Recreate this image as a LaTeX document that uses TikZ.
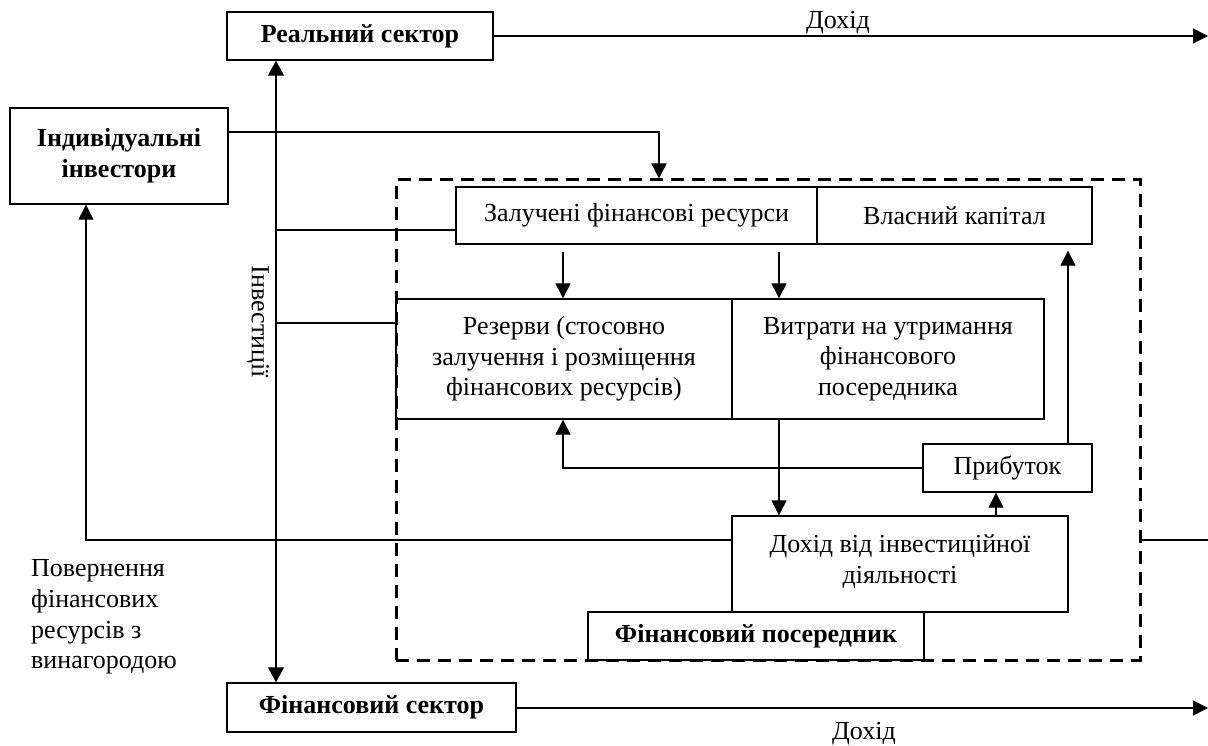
\documentclass[tikz,border=0pt]{standalone}
\usepackage{fontspec}
\setmainfont{Liberation Serif}
\usetikzlibrary{arrows.meta,calc}
\newcommand\mainfs{\fontsize{26}{30.7}\selectfont}
\begin{document}
\begin{tikzpicture}[x=1pt,y=-1pt,
  box/.style={draw, line width=1.4pt, inner sep=0pt, align=center, font=\mainfs},
  conn/.style={line width=1.3pt},
  arr/.style={line width=1.3pt, -{Triangle[length=15pt,width=15pt]}},
  darr/.style={line width=1.1pt, {Triangle[length=15pt,width=16pt]}-{Triangle[length=15pt,width=16pt]}},
  lbl/.style={font=\mainfs, inner sep=0pt},
  dashbox/.style={draw, line width=3pt, dash pattern=on 13pt off 8pt, inner sep=0pt}]
\useasboundingbox (0,0) rectangle (1208,746);

% dashed financial intermediary frame
\node[dashbox, minimum width=744pt, minimum height=480pt] (fp) at (768,420) {};

% boxes
\node[box, minimum width=266pt, minimum height=48pt] (real) at (360,36) {\textbf{Реальний сектор}};
\node[box, minimum width=218pt, minimum height=96pt] (inv) at (119,156) {\textbf{Індивідуальні}\\\textbf{інвестори}};
\node[box, minimum width=289pt, minimum height=49pt] (fin) at (371.5,707.5) {\textbf{Фінансовий сектор}};
\node[box, minimum width=361pt, minimum height=57pt] (zal) at (636.5,215.5) {Залучені фінансові ресурси};
\node[box, minimum width=275pt, minimum height=57pt] (vlas) at (954.5,215.5) {Власний капітал};
\node[box, minimum width=336pt, minimum height=120pt] (res) at (564,359) {Резерви (стосовно\\залучення і розміщення\\фінансових ресурсів)};
\node[box, minimum width=312pt, minimum height=120pt] (vyt) at (888,359) {Витрати на утримання\\фінансового\\посередника};
\node[box, minimum width=169pt, minimum height=48pt] (prib) at (1007.5,468) {Прибуток};
\node[box, minimum width=336pt, minimum height=96pt] (doh) at (900,564) {Дохід від інвестиційної\\діяльності\strut};
\node[box, minimum width=336pt, minimum height=48pt] (fpos) at (756,636) {\textbf{Фінансовий посередник}};

% labels
\node[lbl] (dtop) at (838,23) {Дохід};
\node[lbl] (dbot) at (864,734) {Дохід};
\node[lbl, rotate=-90] (invest) at (258,322) {Інвестиції};
\node[lbl, align=left, anchor=west] (povern) at (31,617) {Повернення\\фінансових\\ресурсів з\\винагородою};

% free ends
\coordinate (topend) at (1208,36);
\coordinate (botend) at (1208,708);
\coordinate (rightend) at (1208,540);
\coordinate (vx) at (276,0);

% connectors
\draw[arr] (real.east) -- (topend);
\draw[arr] (fin.east |- botend) -- (botend);
\draw[arr] (inv.east |- 0,132) -- (659,132) -- (659,180 |- fp.north);
\draw[darr] (vx |- real.south) -- (vx |- fin.north);
\draw[conn] (276,230) -- (zal.west |- 276,230);
\draw[conn] (276,323) -- (res.west |- 276,323);
\draw[arr] ([yshift=-7pt]zal.south -| 563,0) -- (res.north -| 563,0);
\draw[arr] ([yshift=-7pt]zal.south -| 779,0) -- (vyt.north -| 779,0);
\draw[arr] (vyt.south -| 779,0) -- (doh.north -| 779,0);
\draw[arr] (doh.north -| 996,0) -- (prib.south -| 996,0);
\draw[arr] (prib.north -| 1068,0) -- ([yshift=-6pt]vlas.south -| 1068,0);
\draw[arr] (prib.west) -- (563,468) -- (res.south -| 563,0);
\draw[arr] (doh.west |- 0,540) -- (86,540) -- (inv.south -| 86,0);
\draw[conn] (fp.east |- rightend) -- (rightend);
\end{tikzpicture}
\end{document}
